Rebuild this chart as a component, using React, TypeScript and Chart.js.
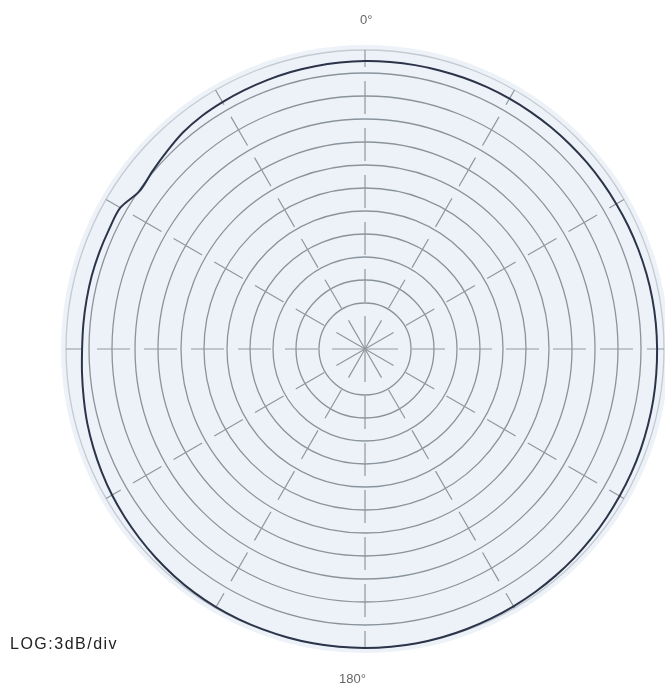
import React, { useEffect, useRef } from "react";
import { Chart, registerables } from "chart.js";

Chart.register(...registerables);

// Angles (degrees, clockwise from top) every 5°
const ANGLES: number[] = [
  0, 5, 10, 15, 20, 25, 30, 35, 40, 45, 50, 55, 60, 65, 70, 75, 80, 85,
  90, 95, 100, 105, 110, 115, 120, 125, 130, 135, 140, 145, 150, 155, 160, 165, 170, 175,
  180, 185, 190, 195, 200, 205, 210, 215, 220, 225, 230, 235, 240, 245, 250, 255, 260, 265,
  270, 275, 280, 285, 290, 295, 300, 305, 310, 315, 320, 325, 330, 335, 340, 345, 350, 355,
];

// Measured level (dB, relative to the outer ring)
const LEVEL_DB: number[] = [
  -1.45, -1.43, -1.4, -1.38, -1.35, -1.32, -1.3, -1.28, -1.25, -1.23, -1.2, -1.18, -1.15, -1.1, -1.05, -1.0, -0.95, -0.92,
  -0.9, -0.87, -0.82, -0.78, -0.73, -0.69, -0.65, -0.58, -0.5, -0.43, -0.37, -0.3, -0.25, -0.2, -0.14, -0.08, -0.04, -0.02,
  0, 0, -0.02, -0.05, -0.08, -0.1, -0.13, -0.2, -0.32, -0.45, -0.6, -0.75, -0.9, -1.1, -1.3, -1.5, -1.75, -1.95,
  -2.1, -2.12, -2.12, -2.1, -2.12, -2.15, -2.15, -3.1, -2.85, -2.5, -2.1, -1.9, -1.82, -1.75, -1.68, -1.6, -1.55, -1.5,
];

// Ring values: 3 dB per division
const RING_DB: number[] = [-33, -30, -27, -24, -21, -18, -15, -12, -9, -6, -3, 0];
const SCALE_MIN = -39;
const SCALE_MAX = 0;

const TOP_LABEL = "0°";
const BOTTOM_LABEL = "180°";
const SCALE_NOTE = "LOG:3dB/div";

const paperPlugin = {
  id: "paper",
  beforeDraw(chart: any) {
    const s = chart.scales.r;
    if (!s) return;
    const ctx = chart.ctx;
    ctx.save();
    ctx.beginPath();
    ctx.arc(s.xCenter, s.yCenter, s.drawingArea + 5, 0, Math.PI * 2);
    ctx.fillStyle = "#edf2f8";
    ctx.fill();
    ctx.restore();
  },
};

export default function App() {
  const canvasRef = useRef<HTMLCanvasElement | null>(null);

  useEffect(() => {
    if (!canvasRef.current) return;
    const chart = new Chart(canvasRef.current, {
      type: "radar",
      data: {
        labels: ANGLES.map((a) => `${a}°`),
        datasets: [
          {
            data: LEVEL_DB,
            borderColor: "#2b3449",
            borderWidth: 2,
            pointRadius: 0,
            fill: false,
            tension: 0.3,
          },
        ],
      },
      options: {
        responsive: false,
        animation: false,
        layout: { padding: { left: 66, right: 16, top: 50, bottom: 43 } },
        plugins: { legend: { display: false }, tooltip: { enabled: false } },
        scales: {
          r: {
            min: SCALE_MIN,
            max: SCALE_MAX,
            startAngle: 0,
            afterBuildTicks: (scale: any) => {
              scale.ticks = RING_DB.map((v) => ({ value: v }));
            },
            ticks: { display: false },
            pointLabels: { display: false },
            grid: {
              circular: true,
              color: (ctx: any) => (ctx.tick && ctx.tick.value === 0 ? "#c3cad2" : "#8a939c"),
              lineWidth: 1.3,
            },
            angleLines: {
              display: true,
              color: "#8f979f",
              lineWidth: (ctx: any) => (ctx.index % 6 === 0 ? 1.2 : 0),
              borderDash: [33, 14],
            },
          },
        },
      },
      plugins: [paperPlugin],
    });
    return () => chart.destroy();
  }, []);

  const textBase: React.CSSProperties = {
    position: "absolute",
    fontFamily: "'Liberation Sans', Arial, sans-serif",
    whiteSpace: "nowrap",
  };

  return (
    <div
      style={{
        position: "fixed",
        left: 0,
        top: 0,
        width: 665,
        height: 691,
        overflow: "hidden",
        background: "#ffffff",
      }}
    >
      <canvas ref={canvasRef} width={680} height={691} style={{ display: "block" }} />
      <div style={{ ...textBase, left: 360, top: 12, fontSize: 13, color: "#666" }}>{TOP_LABEL}</div>
      <div style={{ ...textBase, left: 339, top: 671, fontSize: 13, color: "#666" }}>{BOTTOM_LABEL}</div>
      <div style={{ ...textBase, left: 10, top: 635, fontSize: 16, color: "#222", letterSpacing: 1.5 }}>
        {SCALE_NOTE}
      </div>
    </div>
  );
}
